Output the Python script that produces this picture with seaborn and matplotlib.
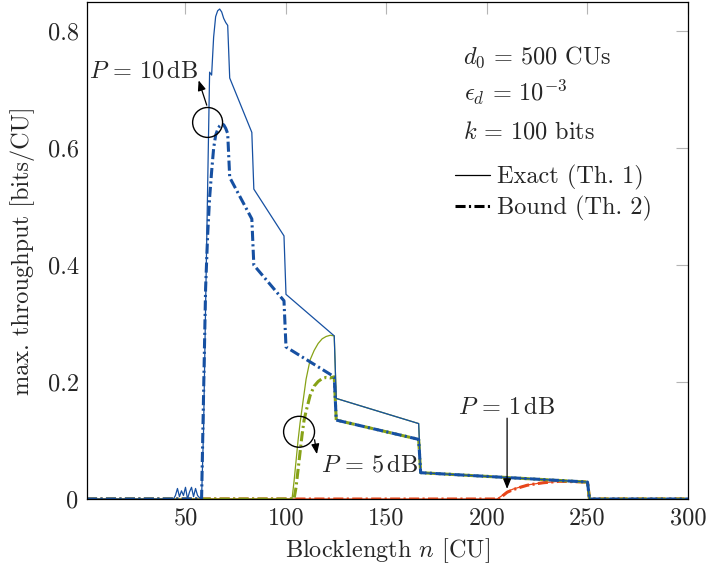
import numpy as np
import pandas as pd
import seaborn as sns
import matplotlib
matplotlib.use("Agg")
import matplotlib.pyplot as plt
from matplotlib.patches import Ellipse
from matplotlib.lines import Line2D

# ---- data ----
# P = 10 dB
n10_exact = [1, 44, 45, 46, 47, 48, 49, 50, 51, 52, 53, 54, 55, 56, 57, 58,
             59, 60, 61, 62, 63, 64, 65, 66, 67, 68, 69, 70, 71, 72,
             83, 84, 99, 100, 124, 125, 166, 167, 250, 251, 300]
t10_exact = [0, 0, 0.006, 0.018, 0.004, 0.014, 0.006, 0.02, 0.0, 0.012, 0.02, 0.004, 0.018, 0.006, 0.002, 0,
             0.12, 0.33, 0.53, 0.73, 0.725, 0.79, 0.825, 0.835, 0.838, 0.833, 0.822, 0.815, 0.81, 0.72,
             0.627, 0.53, 0.45, 0.35, 0.279, 0.172, 0.129, 0.045, 0.029, 0, 0]
n10_bound = [1, 58, 59, 60, 61, 62, 63, 64, 65, 66, 67, 68, 69, 70, 71, 72,
             83, 84, 99, 100, 124, 125, 166, 167, 250, 251, 300]
t10_bound = [0, 0, 0.18, 0.36, 0.45, 0.515, 0.56, 0.6, 0.622, 0.632, 0.638, 0.641, 0.64, 0.634, 0.625, 0.55,
             0.479, 0.40, 0.339, 0.26, 0.209, 0.135, 0.102, 0.045, 0.029, 0, 0]

# P = 5 dB
n5_exact = [1, 103, 104, 105, 106, 107, 108, 110, 112, 114, 116, 118, 120, 122, 124,
            125, 166, 167, 250, 251, 300]
t5_exact = [0, 0, 0.03, 0.065, 0.1, 0.13, 0.155, 0.205, 0.238, 0.254, 0.266, 0.274, 0.278, 0.28, 0.279,
            0.172, 0.129, 0.045, 0.029, 0, 0]
n5_bound = [1, 104, 105, 106, 107, 108, 109, 110, 112, 114, 116, 118, 120, 122, 124,
            125, 166, 167, 250, 251, 300]
t5_bound = [0, 0, 0.02, 0.05, 0.08, 0.11, 0.135, 0.15, 0.177, 0.193, 0.201, 0.206, 0.208, 0.207, 0.209,
            0.135, 0.102, 0.045, 0.029, 0, 0]

# P = 1 dB
n1_exact = [1, 205, 208, 210, 213, 217, 220, 224, 228, 232, 236, 250, 251, 300]
t1_exact = [0, 0, 0.007, 0.0125, 0.017, 0.021, 0.024, 0.026, 0.028, 0.029, 0.0305, 0.029, 0, 0]
n1_bound = [1, 206, 208, 210, 213, 217, 220, 224, 228, 232, 236, 250, 251, 300]
t1_bound = [0, 0, 0.006, 0.0115, 0.016, 0.0205, 0.0235, 0.0258, 0.0278, 0.029, 0.0303, 0.029, 0, 0]

xticks = [50, 100, 150, 200, 250, 300]
yticks = [0, 0.2, 0.4, 0.6, 0.8]
ytick_labels = ["0", "0.2", "0.4", "0.6", "0.8"]

c_blue = "#1650a2"
c_olive = "#87a216"
c_red = "#e8461a"

sns.set_theme(style="white")
plt.rcParams["font.family"] = "serif"
plt.rcParams["font.serif"] = ["cmr10", "DejaVu Serif"]
plt.rcParams["mathtext.fontset"] = "cm"
plt.rcParams["axes.formatter.use_mathtext"] = True
plt.rcParams["axes.unicode_minus"] = False

fs = 17.5
fig = plt.figure(figsize=(7.15, 5.69), dpi=100)
ax = fig.add_axes([87 / 715, 70 / 569, 601 / 715, 497 / 569])

bound_ls = (0, (3.3, 1.1, 0.7, 1.1))
lw_exact = 0.9
lw_bound = 2.2

series = [
    (n1_exact, t1_exact, c_red, "-", lw_exact),
    (n1_bound, t1_bound, c_red, bound_ls, lw_bound),
    (n5_exact, t5_exact, c_olive, "-", lw_exact),
    (n5_bound, t5_bound, c_olive, bound_ls, lw_bound),
    (n10_exact, t10_exact, c_blue, "-", lw_exact),
    (n10_bound, t10_bound, c_blue, bound_ls, lw_bound),
]
for xs, ys, col, ls, lw in series:
    sns.lineplot(x=xs, y=ys, ax=ax, color=col, linestyle=ls, linewidth=lw,
                 estimator=None, sort=False)

ax.set_xlim(1, 300)
ax.set_ylim(0, 0.85)
ax.set_xticks(xticks)
ax.set_xticklabels([str(v) for v in xticks])
ax.set_yticks(yticks)
ax.set_yticklabels(ytick_labels)
ax.tick_params(axis="both", which="both", direction="in", length=8.5, width=0.8,
               color="#b4b4b4", top=True, right=True, labelsize=fs, pad=6)
for s in ax.spines.values():
    s.set_color("black")
    s.set_linewidth(0.9)

ax.set_xlabel("Blocklength $n$ [CU]", fontsize=fs, labelpad=5)
ax.set_ylabel("max. throughput [bits/CU]", fontsize=fs, labelpad=9)

# circles + annotations
ax.add_patch(Ellipse((61.0, 0.644), 30 / 2.014, 30 / 586.25, fill=False, ec="black", lw=1.0, zorder=5))
ax.add_patch(Ellipse((106.5, 0.115), 31 / 2.014, 31 / 586.25, fill=False, ec="black", lw=1.0, zorder=5))

arrow_kw = dict(arrowstyle="-|>,head_length=0.5,head_width=0.2", color="black", lw=0.9)
ax.annotate("", xy=(56.1, 0.7205), xytext=(61.0, 0.669), arrowprops=arrow_kw, zorder=6)
ax.text(1.8, 0.7215, r"$P \,=\, 10\,\mathrm{dB}$", fontsize=fs, ha="left", va="baseline")

ax.annotate("", xy=(115.6, 0.072), xytext=(114.0, 0.106), arrowprops=arrow_kw, zorder=6)
ax.text(117.3, 0.0466, r"$P \,=\, 5\,\mathrm{dB}$", fontsize=fs, ha="left", va="baseline")

ax.annotate("", xy=(210, 0.0125), xytext=(210, 0.143), arrowprops=arrow_kw, zorder=6)
ax.text(210, 0.146, r"$P \,=\, 1\,\mathrm{dB}$", fontsize=fs, ha="center", va="baseline")

# parameter box
ax.text(188.3, 0.744, r"$d_0 \,=\, 500$ CUs", fontsize=fs, ha="left", va="baseline")
ax.text(188.6, 0.681, r"$\epsilon_d \,=\, 10^{-3}$", fontsize=fs, ha="left", va="baseline")
ax.text(188.3, 0.617, r"$k \,=\, 100$ bits", fontsize=fs, ha="left", va="baseline")

handles = [Line2D([], [], color="black", lw=lw_exact, ls="-"),
           Line2D([], [], color="black", lw=lw_bound, ls=bound_ls)]
ax.legend(handles, ["Exact (Th. 1)", "Bound (Th. 2)"], loc="upper left",
          bbox_to_anchor=(0.612, 0.673), frameon=False, fontsize=fs,
          handlelength=1.45, handletextpad=0.28, labelspacing=0.26,
          borderpad=0, borderaxespad=0)

fig.savefig("out.png", dpi=100)
